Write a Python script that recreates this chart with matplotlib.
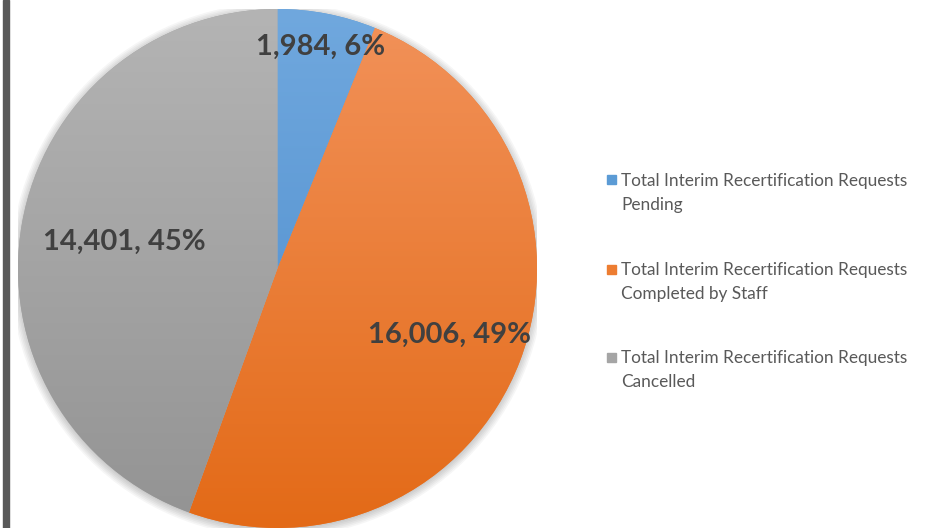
import numpy as np
import matplotlib
matplotlib.use("Agg")
import matplotlib.pyplot as plt
from matplotlib.colors import LinearSegmentedColormap
from matplotlib.patches import Rectangle, Circle

# datos del gráfico
categorias = [
    "Total Interim Recertification Requests\nPending",
    "Total Interim Recertification Requests\nCompleted by Staff",
    "Total Interim Recertification Requests\nCancelled",
]
valores = [1984, 16006, 14401]
porcentajes = ["6%", "49%", "45%"]

# estilo
colores_arriba = ["#70A8DE", "#F2925A", "#B4B4B4"]
colores_abajo = ["#4A8ACB", "#E36A17", "#939393"]
colores_base = ["#5B9BD5", "#ED7D31", "#A5A5A5"]
dist_etiquetas = [0.87, 0.71, 0.60]

plt.rcParams["font.family"] = ["Lato", "DejaVu Sans"]

fig = plt.figure(figsize=(9.3, 5.28), dpi=100)
W, H = 930, 528

# barra oscura a la izquierda
fig.patches.append(Rectangle((3 / W, 0), 6 / W, 1, transform=fig.transFigure,
                             color="#595959", zorder=0))

ax = fig.add_axes([18 / W, 0 / H, 519 / W, 519 / H])
ax.set_xlim(-1, 1)
ax.set_ylim(-1, 1)
ax.set_aspect("equal")
ax.axis("off")

# sombra suave
for k in range(6):
    ax.add_patch(Circle((0, -0.006), 1.0 + 0.006 * k, color="black",
                        alpha=0.035, lw=0, zorder=0))

wedges, _ = ax.pie(valores, startangle=90, counterclock=False, radius=1,
                   colors=colores_base,
                   wedgeprops=dict(edgecolor="none", linewidth=0))
ax.set_xlim(-1, 1)
ax.set_ylim(-1, 1)

# degradado vertical dentro de cada porción
grad = np.linspace(1, 0, 256).reshape(-1, 1)
for w, c_top, c_bot in zip(wedges, colores_arriba, colores_abajo):
    cmap = LinearSegmentedColormap.from_list("g", [c_bot, c_top])
    im = ax.imshow(grad, cmap=cmap, extent=[-1, 1, -1, 1], aspect="auto",
                   origin="upper", zorder=2, vmin=0, vmax=1)
    im.set_clip_path(w)

for w, v, p, d in zip(wedges, valores, porcentajes, dist_etiquetas):
    ang = np.deg2rad((w.theta1 + w.theta2) / 2)
    ax.text(d * np.cos(ang), d * np.sin(ang), f"{v:,}, {p}",
            ha="center", va="center", fontsize=21, fontweight="bold",
            color="#404040", zorder=5)

# leyenda manual
filas_y = [180, 269, 357]
for c, lab, y in zip(colores_base, categorias, filas_y):
    fig.patches.append(Rectangle((607 / W, 1 - (y + 4.5) / H), 9 / W, 9 / H,
                                 transform=fig.transFigure, color=c))
    fig.text(621 / W, 1 - (y - 7) / H, lab, ha="left", va="top",
             fontsize=12.4, color="#595959", linespacing=1.6)

fig.savefig("out.png", dpi=100)
